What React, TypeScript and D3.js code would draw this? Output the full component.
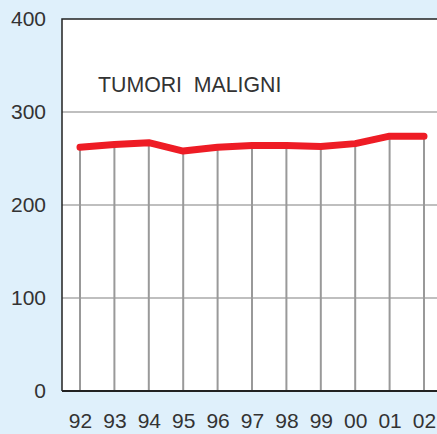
import { useEffect, useRef } from "react";
import * as d3 from "d3";

const years = ["92", "93", "94", "95", "96", "97", "98", "99", "00", "01", "02"];
const values = [262, 265, 267, 258, 262, 264, 264, 263, 266, 274, 274];
const yTicks = [0, 100, 200, 300, 400];
const title = "TUMORI  MALIGNI";

const width = 437;
const height = 434;
const marginLeft = 62;
const marginTop = 19;
const plotBottom = 391;
const font = "Liberation Sans, Arial, sans-serif";

const App = () => {
  const gx = useRef<SVGGElement>(null);
  const gy = useRef<SVGGElement>(null);

  const x = d3.scalePoint<string>().domain(years).range([80, 424]);
  const y = d3.scaleLinear().domain([0, 400]).range([plotBottom, marginTop]);
  const line = d3.line<number>().x((d, i) => x(years[i])!).y((d) => y(d));

  useEffect(() => {
    const ax = d3.select(gx.current!).call(d3.axisBottom(x).tickSize(0).tickPadding(22));
    ax.select(".domain").remove();
    ax.attr("font-size", 21).attr("font-family", font);
    ax.selectAll("text").attr("fill", "#333");
    const ay = d3.select(gy.current!).call(d3.axisLeft(y).tickValues(yTicks).tickSize(0).tickPadding(16));
    ay.select(".domain").remove();
    ay.attr("font-size", 21).attr("font-family", font);
    ay.selectAll("text").attr("fill", "#333");
  }, []);

  return (
    <svg width={width} height={height} style={{ position: "absolute", left: 0, top: 0, display: "block" }}>
      <rect width={width} height={height} fill="#dff0fb" />
      <rect x={marginLeft} y={marginTop} width={width - marginLeft} height={plotBottom - marginTop} fill="#fff" />
      {yTicks.slice(1, -1).map((t) => (
        <line key={t} x1={marginLeft} x2={width} y1={y(t)} y2={y(t)} stroke="#aaa" strokeWidth={1.5} />
      ))}
      {values.map((v, i) => (
        <line key={i} x1={x(years[i])} x2={x(years[i])} y1={y(v)} y2={plotBottom} stroke="#999" strokeWidth={2} />
      ))}
      <path d={`M${marginLeft},${plotBottom}V${marginTop}H${width}`} fill="none" stroke="#222" strokeWidth={1.5} />
      <line x1={marginLeft} x2={width} y1={plotBottom} y2={plotBottom} stroke="#222" strokeWidth={2} />
      <path d={line(values)!} fill="none" stroke="#ee1c25" strokeWidth={7} strokeLinecap="round" strokeLinejoin="round" />
      <text x={98} y={92} fontSize={21.3} fill="#333" fontFamily={font} style={{ whiteSpace: "pre" }}>
        {title}
      </text>
      <g ref={gx} transform={`translate(0,${plotBottom})`} />
      <g ref={gy} transform={`translate(${marginLeft},0)`} />
    </svg>
  );
};

export default App;
